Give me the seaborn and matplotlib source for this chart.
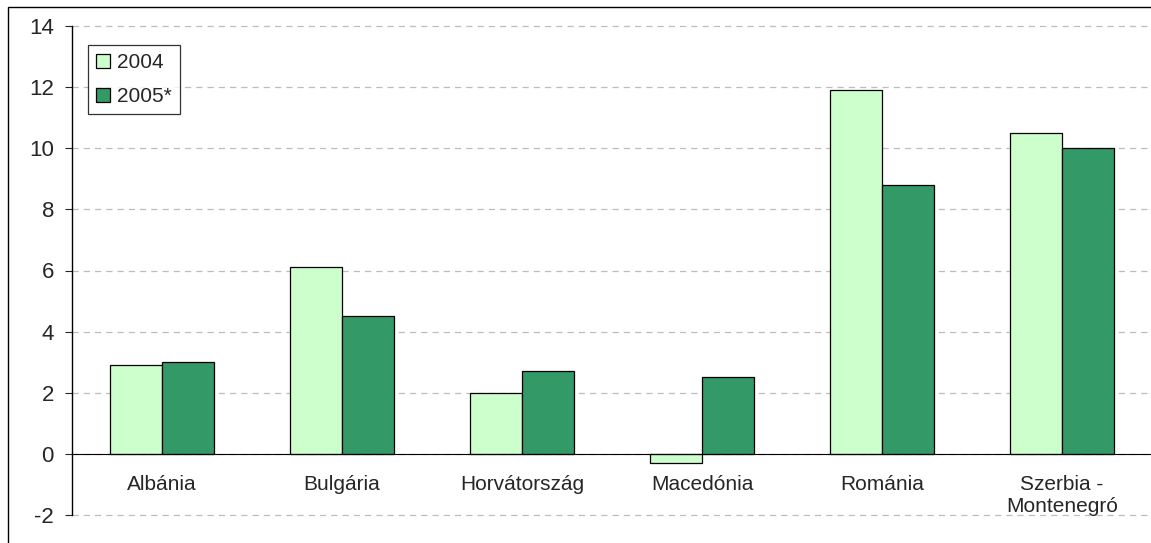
import matplotlib.pyplot as plt
import matplotlib.patches as mpatches
import pandas as pd
import seaborn as sns

countries = ['Albánia', 'Bulgária', 'Horvátország', 'Macedónia', 'Románia', 'Szerbia -\nMontenegró']
years = ['2004', '2005*']
values_2004 = [2.9, 6.1, 2.0, -0.3, 11.9, 10.5]
values_2005 = [3.0, 4.5, 2.7, 2.5, 8.8, 10.0]
colors = ['#CCFFCC', '#339966']

df = pd.DataFrame({
    'country': countries * 2,
    'year': [years[0]] * len(countries) + [years[1]] * len(countries),
    'value': values_2004 + values_2005,
})

sns.set_style('white')
plt.rcParams['font.family'] = ['Liberation Sans', 'DejaVu Sans']
plt.rcParams['axes.unicode_minus'] = False

fig = plt.figure(figsize=(11.51, 5.43), dpi=100)
ax = fig.add_axes([72 / 1151, 1 - 515 / 543, 1080 / 1151, (515 - 26) / 543])

sns.barplot(data=df, x='country', y='value', hue='year', palette=colors,
            width=0.58, edgecolor='black', linewidth=0.9, saturation=1,
            ax=ax)

ax.set_xlim(-0.5, len(countries) - 0.5)
ax.set_ylim(-2, 14)
ax.set_yticks(range(-2, 15, 2))
ax.yaxis.grid(True, color='#BDBDBD', linestyle=(0, (5, 4)), linewidth=0.9)
for gl in ax.get_ygridlines():
    gl.set_clip_on(False)
ax.set_axisbelow(True)

for side in ['top', 'right']:
    ax.spines[side].set_visible(False)
ax.spines['bottom'].set_position(('data', 0))
ax.spines['bottom'].set_color('black')
ax.spines['left'].set_color('black')
ax.spines['left'].set_linewidth(1.0)

ax.set_xticks([i + 0.5 for i in range(len(countries) - 1)], minor=True)
ax.tick_params(axis='x', which='major', length=0, pad=15, labelsize=15)
ax.tick_params(axis='x', which='minor', length=5, direction='out', color='#444444')
ax.tick_params(axis='y', length=5, direction='out', labelsize=16, left=True, pad=8)
ax.set_xlabel('')
ax.set_ylabel('')

handles = [mpatches.Patch(facecolor=c, edgecolor='black', linewidth=0.9) for c in colors]
leg = ax.legend(handles, years, loc='upper left', bbox_to_anchor=(16 / 1080, 1 - 19 / 489),
                frameon=True, fancybox=False, fontsize=15, handlelength=0.65,
                handleheight=0.65, handletextpad=0.35, borderpad=0.4, labelspacing=0.7,
                borderaxespad=0)
leg.get_frame().set_edgecolor('black')
leg.get_frame().set_linewidth(0.9)

fig.patches.append(mpatches.Rectangle((8 / 1151, -0.1), 1.1, 1.1 - 7 / 543, transform=fig.transFigure,
                                      fill=False, edgecolor='black', linewidth=1.0))

fig.savefig('out.png', dpi=100)
